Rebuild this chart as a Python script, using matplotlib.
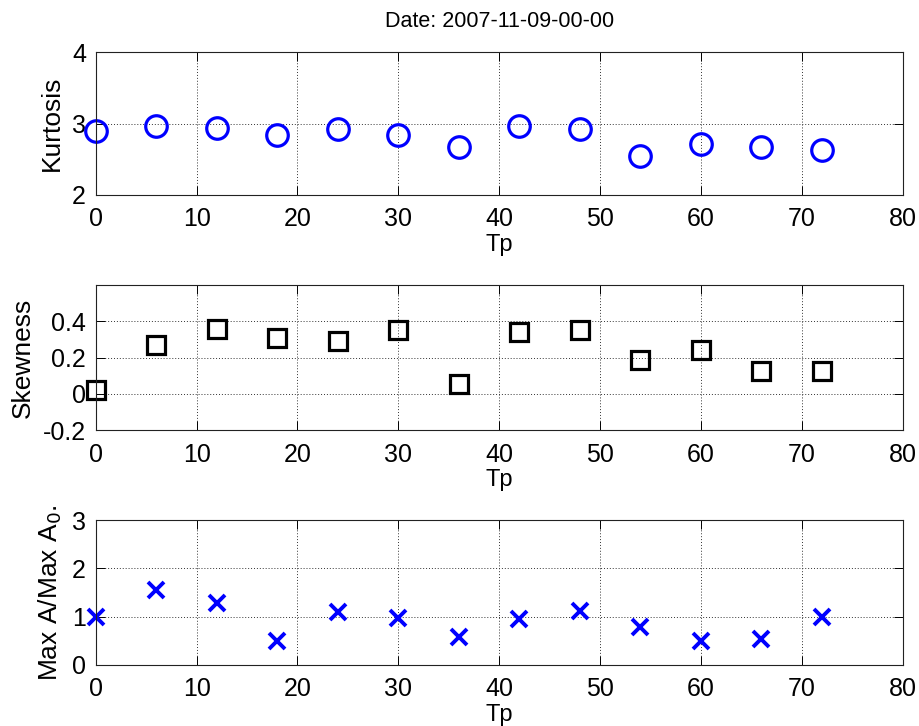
import matplotlib
matplotlib.use("Agg")
import matplotlib.pyplot as plt

plt.rcParams['font.family'] = ['Liberation Sans', 'DejaVu Sans']

tp = [0, 6, 12, 18, 24, 30, 36, 42, 48, 54, 60, 66, 72]
kurtosis = [2.89, 2.96, 2.94, 2.84, 2.93, 2.84, 2.67, 2.96, 2.93, 2.55, 2.72, 2.67, 2.63]
skewness = [0.018, 0.27, 0.36, 0.31, 0.29, 0.354, 0.055, 0.338, 0.35, 0.185, 0.24, 0.123, 0.123]
max_ratio = [0.99, 1.55, 1.29, 0.49, 1.10, 0.97, 0.57, 0.96, 1.11, 0.79, 0.50, 0.54, 1.00]

title = "Date: 2007-11-09-00-00"
xticks = [0, 10, 20, 30, 40, 50, 60, 70, 80]

W, H = 919, 726
fig = plt.figure(figsize=(W / 100, H / 100), dpi=100)

left = 95.7 / W
width = 807 / W

def make_axes(top_px, bot_px):
    return fig.add_axes([left, 1 - bot_px / H, width, (bot_px - top_px) / H])

ax1 = make_axes(52, 195)
ax2 = make_axes(285, 430)
ax3 = make_axes(520, 665)

def style(ax, ylim, yticks, yticklabels, ylabel):
    ax.set_xlim(0, 80)
    ax.set_ylim(*ylim)
    ax.set_xticks(xticks)
    ax.set_xticklabels([str(v) for v in xticks])
    ax.set_yticks(yticks)
    ax.set_yticklabels(yticklabels)
    ax.grid(True, linestyle=(0, (1, 2)), color='#333333', linewidth=0.7)
    ax.set_axisbelow(True)
    ax.tick_params(direction='in', top=True, right=True, length=6.5, width=0.7,
                   labelsize=18, pad=7)
    ax.tick_params(axis='x', pad=9)
    for s in ax.spines.values():
        s.set_linewidth(0.8)
        s.set_color('#222222')
    ax.set_xlabel('Tp', fontsize=17, labelpad=2)
    ax.set_ylabel(ylabel, fontsize=19, labelpad=6)

ax1.plot(tp, kurtosis, linestyle='none', marker='o', markersize=15.5,
         markerfacecolor='none', markeredgecolor='#0000ff', markeredgewidth=2.3, clip_on=False)
style(ax1, (2, 4), [2, 3, 4], ['2', '3', '4'], 'Kurtosis')
ax1.set_title(title, fontsize=15.5, pad=18)

ax2.plot(tp, skewness, linestyle='none', marker='s', markersize=12.5,
         markerfacecolor='none', markeredgecolor='black', markeredgewidth=2.3, clip_on=False)
style(ax2, (-0.2, 0.6), [-0.2, 0, 0.2, 0.4], ['-0.2', '0', '0.2', '0.4'], 'Skewness')

ax3.plot(tp, max_ratio, linestyle='none', marker='x', markersize=11,
         markeredgecolor='#0000ff', markeredgewidth=2.8, clip_on=False)
style(ax3, (0, 3), [0, 1, 2, 3], ['0', '1', '2', '3'], 'Max A/Max A$_0$.')

fig.savefig('out.png', dpi=100)
